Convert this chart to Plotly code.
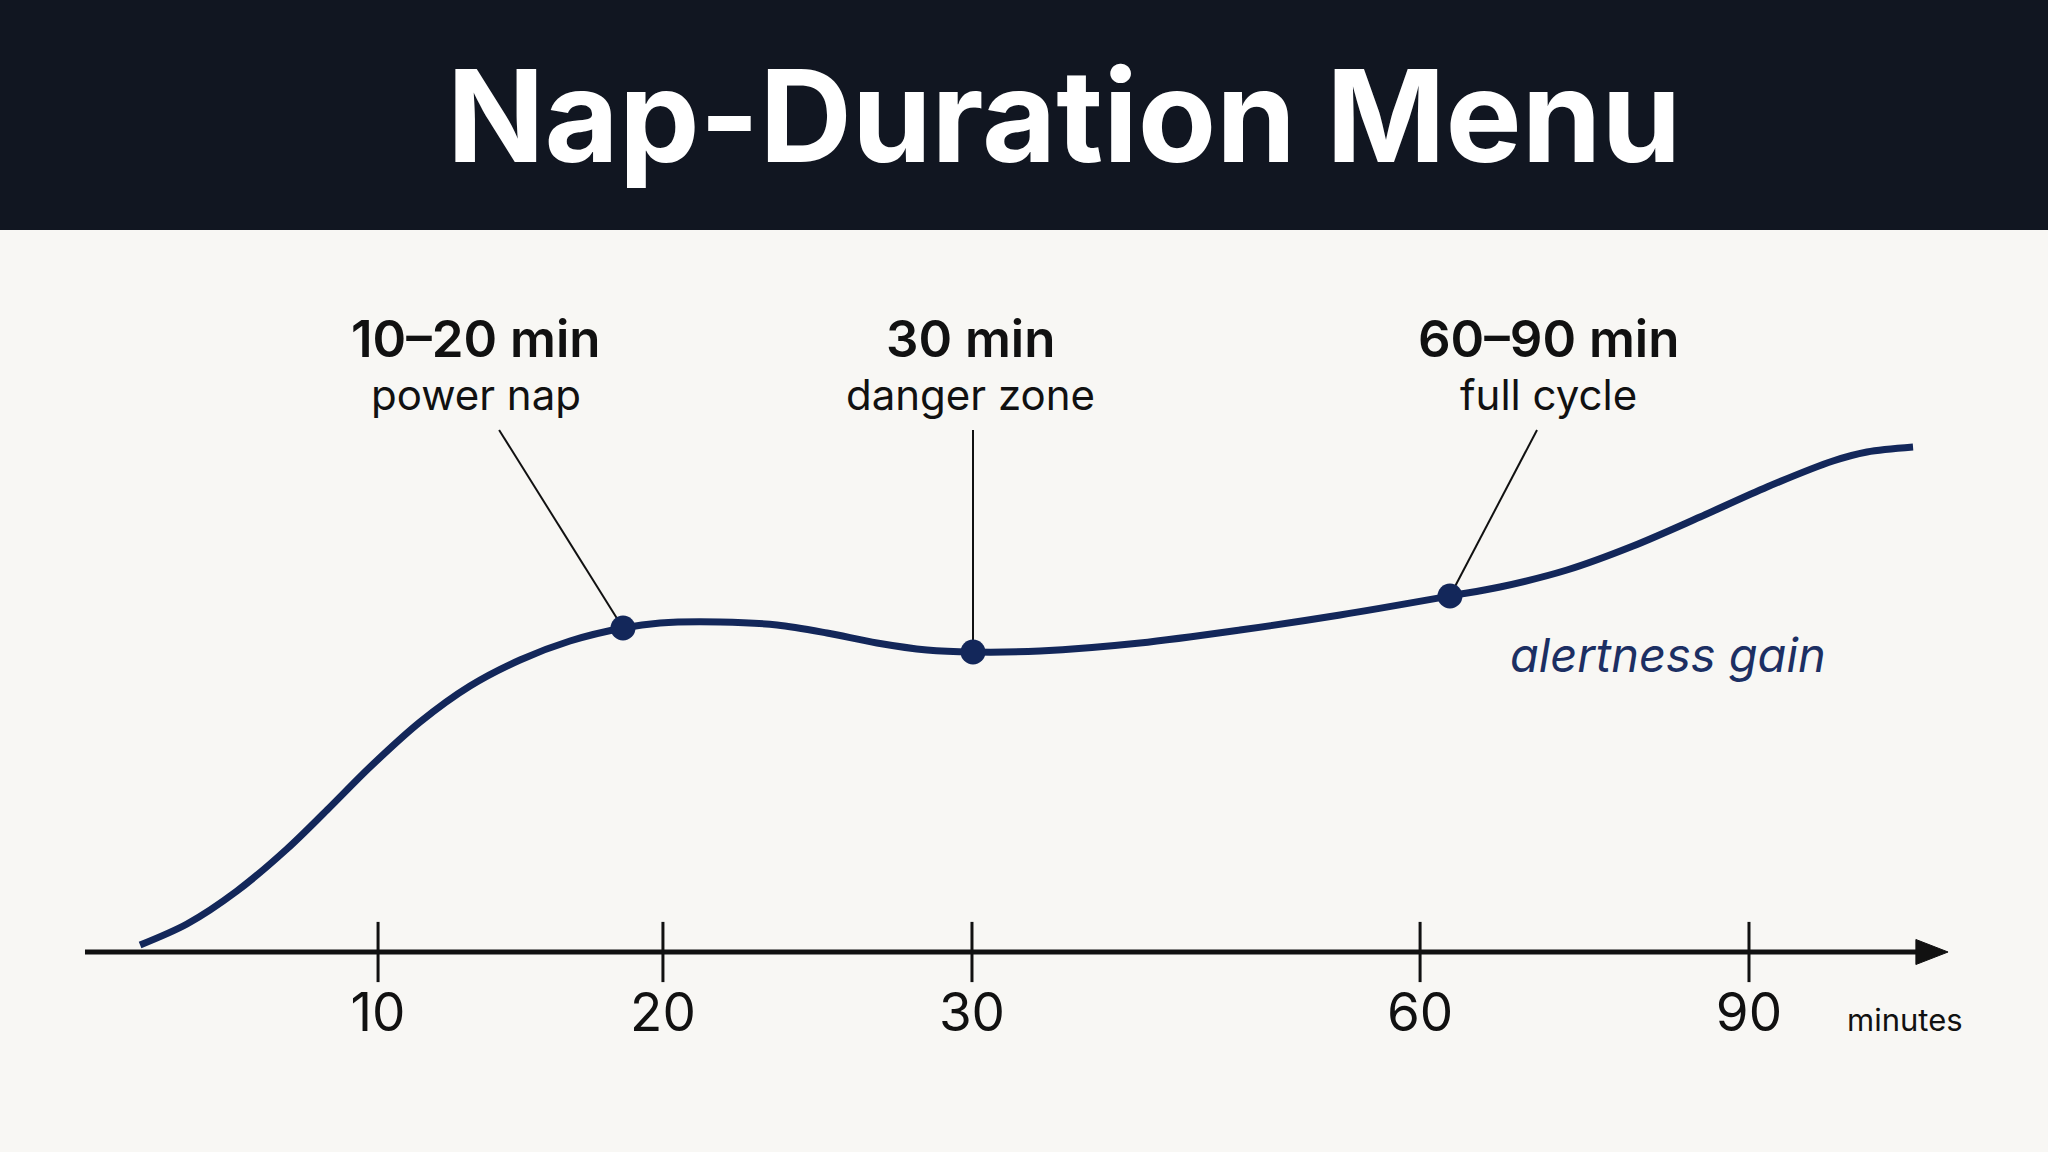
import plotly.graph_objects as go

# ---------------- data ----------------
# horizontal position along the (schematic, non-linear) time axis, in axis units 0-100
curve_pos = [6.84, 9.13, 11.57, 14.01, 15.97, 18.07, 20.51, 22.95, 25.39, 27.83, 30.42,
             32.23, 35.16, 37.94, 40.38, 42.82, 45.26, 47.51, 50.78, 55.66, 60.55,
             65.43, 70.80, 73.24, 76.51, 79.74, 83.01, 86.28, 89.50, 91.16, 93.41]
# alertness gain (arbitrary units)
curve_gain = [0.07, 0.28, 0.61, 1.03, 1.42, 1.85, 2.30, 2.66, 2.92, 3.11, 3.24,
              3.29, 3.30, 3.27, 3.19, 3.09, 3.02, 3.00, 3.01, 3.09, 3.22,
              3.37, 3.56, 3.65, 3.82, 4.06, 4.35, 4.65, 4.91, 5.00, 5.05]

tick_pos = [18.46, 32.37, 47.46, 69.34, 85.40]
tick_labels = ["10", "20", "30", "60", "90"]

marker_pos = [30.42, 47.51, 70.80]
marker_gain = [3.24, 3.00, 3.56]
marker_titles = ["10–20 min", "30 min", "60–90 min"]
marker_subtitles = ["power nap", "danger zone", "full cycle"]
label_pos = [23.24, 47.41, 75.59]
leader_start = [24.37, 47.51, 75.05]

TITLE = "Nap-Duration Menu"
NAVY = "#13275a"
INK = "#111111"
BG = "#f8f7f4"
BANNER = "#111621"
FONT = "Inter"

fig = go.Figure()

# leader lines
for lx, mx, my in zip(leader_start, marker_pos, marker_gain):
    fig.add_shape(type="line", x0=lx, y0=5.22, x1=mx, y1=my,
                  line=dict(color=INK, width=2), layer="below")

# curve
fig.add_trace(go.Scatter(
    x=curve_pos, y=curve_gain, mode="lines",
    line=dict(color=NAVY, width=7, shape="spline", smoothing=0.9),
    hoverinfo="skip", showlegend=False))

# tick marks crossing the axis
fig.add_trace(go.Scatter(
    x=tick_pos, y=[0] * len(tick_pos), mode="markers",
    marker=dict(symbol="line-ns", size=43, line=dict(color=INK, width=3)),
    cliponaxis=False, hoverinfo="skip", showlegend=False))

# highlighted points
fig.add_trace(go.Scatter(
    x=marker_pos, y=marker_gain, mode="markers",
    marker=dict(size=25, color=NAVY),
    hoverinfo="skip", showlegend=False))

# axis line + arrow
fig.add_shape(type="line", x0=4.15, y0=0, x1=93.9, y1=0,
              line=dict(color=INK, width=5))
fig.add_shape(type="path", path="M 93.55 0.125 L 95.12 0 L 93.55 -0.125 Z",
              fillcolor=INK, line=dict(color=INK, width=1))

# banner
fig.add_shape(type="rect", xref="paper", x0=0, x1=1, y0=7.22, y1=9.6,
              fillcolor=BANNER, line=dict(width=0), layer="below")

annotations = []
annotations.append(dict(x=51.95, y=8.37, text=TITLE, showarrow=False,
                        xanchor="center", yanchor="middle",
                        font=dict(family=FONT, size=128, color="#ffffff", weight=700)))
for lp, t, s in zip(label_pos, marker_titles, marker_subtitles):
    annotations.append(dict(x=lp, y=6.14, text=t, showarrow=False,
                            xanchor="center", yanchor="middle",
                            font=dict(family=FONT, size=51, color=INK, weight=600)))
    annotations.append(dict(x=lp, y=5.58, text=s, showarrow=False,
                            xanchor="center", yanchor="middle",
                            font=dict(family=FONT, size=42, color=INK)))
annotations.append(dict(x=81.45, y=2.98, text="alertness gain", showarrow=False,
                        xanchor="center", yanchor="middle",
                        font=dict(family=FONT, size=47, color="#1c2f63", style="italic")))
annotations.append(dict(x=93.02, xref="x", y=-0.043, yref="paper", text="minutes",
                        showarrow=False, xanchor="center", yanchor="middle",
                        font=dict(family=FONT, size=31, color=INK)))

fig.update_layout(
    width=2048, height=1152,
    margin=dict(l=0, r=0, t=0, b=175),
    paper_bgcolor=BG, plot_bgcolor=BG,
    annotations=annotations,
    showlegend=False,
    xaxis=dict(range=[0, 100], tickvals=tick_pos, ticktext=tick_labels,
               showgrid=False, zeroline=False, showline=False, ticks="",
               ticklabelstandoff=0,
               tickfont=dict(family=FONT, size=53, color=INK), fixedrange=True),
    yaxis=dict(range=[-0.25, 9.52], visible=False, fixedrange=True),
)

fig.write_html("out.html")
